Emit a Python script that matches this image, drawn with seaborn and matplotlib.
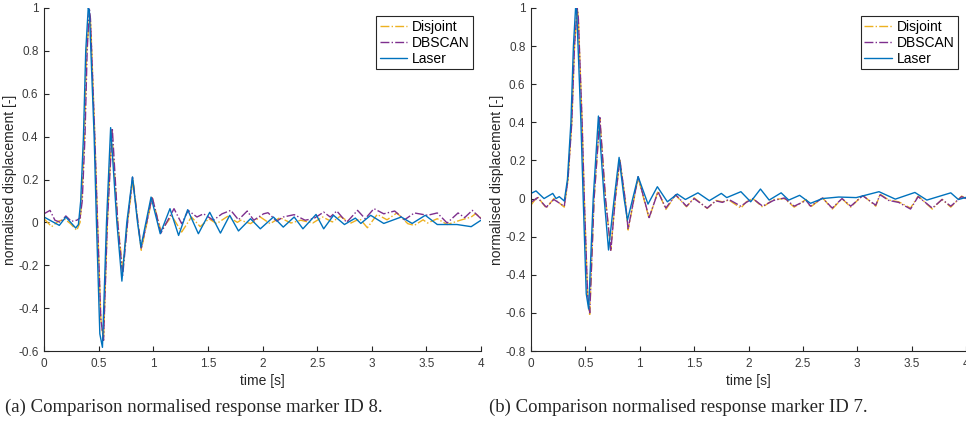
import numpy as np
import pandas as pd
import seaborn as sns
import matplotlib
matplotlib.use('Agg')
import matplotlib.pyplot as plt

# Panel (a): marker ID 8
a_laser_t = [0.00, 0.14, 0.20, 0.29, 0.315, 0.336, 0.361, 0.382, 0.405, 0.415, 0.459, 0.48, 0.511,
             0.535, 0.572, 0.61, 0.667, 0.713, 0.758, 0.81, 0.856, 0.887, 0.98, 1.064, 1.153,
             1.232, 1.315, 1.413, 1.517, 1.615, 1.70, 1.78, 1.89, 1.98, 2.10, 2.19, 2.29, 2.37,
             2.49, 2.56, 2.65, 2.75, 2.85, 2.90, 2.99, 3.11, 3.27, 3.37, 3.49, 3.60, 3.78, 3.91, 4.00]
a_laser_v = [0.025, -0.014, 0.025, -0.026, -0.01, 0.10, 0.40, 0.80, 1.00, 0.99, 0.40, 0.00, -0.52,
             -0.583, 0.00, 0.442, 0.00, -0.274, 0.00, 0.212, 0.00, -0.115, 0.118, -0.053, 0.064,
             -0.061, 0.059, -0.053, 0.047, -0.05, 0.033, -0.04, 0.017, -0.03, 0.025, -0.022, 0.025, -0.03,
             0.037, -0.03, 0.033, -0.01, 0.02, -0.005, 0.033, -0.005, 0.025, -0.005, 0.033, -0.01, -0.01, -0.02, 0.01]

a_disj_t = [0.00, 0.07, 0.13, 0.19, 0.24, 0.30, 0.33, 0.345, 0.37, 0.39, 0.42, 0.43, 0.465, 0.49, 0.52,
            0.545, 0.58, 0.62, 0.675, 0.72, 0.765, 0.815, 0.86, 0.89, 0.99, 1.07, 1.17, 1.26, 1.35,
            1.43, 1.51, 1.58, 1.68, 1.77, 1.80, 1.89, 1.98, 2.07, 2.16, 2.26, 2.35, 2.46, 2.55, 2.64,
            2.71, 2.81, 2.89, 2.96, 3.05, 3.14, 3.23, 3.33, 3.39, 3.47, 3.51, 3.60, 3.69, 3.81, 3.91,
            3.95, 4.00]
a_disj_v = [0.017, -0.02, 0.005, 0.015, -0.005, -0.037, 0.0, 0.10, 0.40, 0.80, 0.97, 0.90, 0.40, 0.0, -0.45,
            -0.55, 0.0, 0.43, 0.0, -0.22, 0.0, 0.20, 0.0, -0.13, 0.115, -0.04, 0.03, -0.045, 0.025,
            -0.02, 0.017, -0.006, 0.028, 0.0, 0.01, -0.006, 0.025, -0.006, 0.022, -0.003, 0.01, -0.003, 0.025, 0.002,
            0.028, -0.003, 0.017, -0.025, 0.037, 0.012, 0.044, -0.006, -0.014, 0.012, -0.003, 0.017, -0.01, 0.01, 0.025,
            0.04, 0.022]

a_dbs_t = [0.00, 0.055, 0.10, 0.15, 0.20, 0.25, 0.30, 0.33, 0.35, 0.375, 0.395, 0.415, 0.425, 0.465, 0.49,
           0.52, 0.545, 0.58, 0.625, 0.675, 0.72, 0.765, 0.81, 0.86, 0.89, 0.99, 1.07, 1.19, 1.26, 1.32,
           1.40, 1.46, 1.55, 1.63, 1.71, 1.78, 1.86, 1.92, 2.01, 2.05, 2.13, 2.19, 2.29, 2.39, 2.47, 2.56,
           2.62, 2.68, 2.77, 2.87, 2.94, 3.02, 3.11, 3.21, 3.30, 3.39, 3.51, 3.60, 3.69, 3.79, 3.85, 3.92, 4.00]
a_dbs_v = [0.04, 0.056, 0.01, 0.0, 0.03, 0.005, 0.01, 0.02, 0.10, 0.40, 0.80, 1.00, 0.95, 0.40, 0.0,
           -0.45, -0.55, 0.0, 0.44, 0.0, -0.25, 0.0, 0.21, 0.0, -0.12, 0.12, -0.05, 0.064, -0.006, 0.056,
           0.025, 0.04, 0.01, 0.04, 0.056, 0.012, 0.053, 0.01, 0.04, 0.045, 0.006, 0.025, 0.036, 0.01, 0.018, 0.048,
           0.025, 0.053, 0.0, 0.056, 0.017, 0.064, 0.04, 0.053, 0.012, 0.044, 0.033, 0.044, -0.003, 0.044, 0.022, 0.056, 0.017]

# Panel (b): marker ID 7
b_laser_t = [0.00, 0.046, 0.12, 0.20, 0.23, 0.26, 0.306, 0.335, 0.367, 0.39, 0.41, 0.42, 0.459, 0.48, 0.508,
             0.53, 0.572, 0.62, 0.673, 0.713, 0.765, 0.81, 0.856, 0.887, 0.985, 1.076, 1.162, 1.254,
             1.345, 1.42, 1.535, 1.64, 1.75, 1.80, 1.93, 2.02, 2.11, 2.19, 2.30, 2.37, 2.47, 2.57,
             2.68, 2.83, 2.99, 3.20, 3.35, 3.53, 3.64, 3.86, 3.93, 4.00]
b_laser_v = [0.027, 0.04, 0.0, 0.027, 0.0, 0.01, -0.013, 0.10, 0.40, 0.80, 1.00, 0.99, 0.40, 0.0, -0.50,
             -0.58, 0.0, 0.433, 0.0, -0.27, 0.0, 0.216, 0.0, -0.113, 0.115, -0.029, 0.062, -0.017,
             0.024, -0.005, 0.03, -0.011, 0.027, 0.005, 0.036, -0.017, 0.05, -0.008, 0.03, -0.008, 0.017, -0.025,
             0.0, 0.008, 0.005, 0.036, -0.003, 0.032, -0.008, 0.03, -0.005, 0.006]

b_disj_t = [0.00, 0.06, 0.14, 0.21, 0.306, 0.34, 0.375, 0.40, 0.425, 0.435, 0.47, 0.49, 0.52, 0.54, 0.58,
            0.633, 0.685, 0.734, 0.775, 0.817, 0.865, 0.893, 0.985, 1.086, 1.168, 1.24, 1.33, 1.43, 1.50,
            1.62, 1.70, 1.76, 1.82, 1.93, 1.98, 2.04, 2.13, 2.23, 2.33, 2.42, 2.53, 2.57, 2.68, 2.77,
            2.86, 2.94, 3.05, 3.17, 3.21, 3.29, 3.38, 3.49, 3.56, 3.69, 3.78, 3.86, 3.96, 4.00]
b_disj_v = [-0.034, 0.01, -0.05, 0.0, -0.045, 0.10, 0.40, 0.80, 1.00, 0.95, 0.40, 0.0, -0.50, -0.615, 0.0,
            0.42, 0.0, -0.27, 0.0, 0.20, 0.0, -0.165, 0.11, -0.105, 0.04, -0.057, 0.018, -0.043, 0.004,
            -0.052, -0.01, -0.017, -0.008, -0.05, -0.017, 0.0, -0.045, -0.005, 0.0, -0.045, -0.005, -0.045, 0.005, -0.055,
            0.0, -0.045, 0.018, -0.04, 0.023, -0.008, -0.017, -0.05, 0.013, -0.055, -0.004, -0.045, 0.013, 0.0]

b_dbs_t = [0.00, 0.06, 0.14, 0.21, 0.306, 0.34, 0.375, 0.40, 0.425, 0.435, 0.47, 0.49, 0.52, 0.54, 0.58,
           0.633, 0.685, 0.734, 0.775, 0.817, 0.865, 0.893, 0.985, 1.086, 1.168, 1.24, 1.33, 1.43, 1.50,
           1.62, 1.70, 1.76, 1.82, 1.93, 1.98, 2.04, 2.13, 2.23, 2.33, 2.42, 2.53, 2.57, 2.68, 2.77,
           2.86, 2.94, 3.05, 3.17, 3.21, 3.29, 3.38, 3.49, 3.56, 3.69, 3.78, 3.86, 3.96, 4.00]
b_dbs_v = [-0.02, 0.005, -0.045, -0.005, -0.04, 0.10, 0.40, 0.80, 1.00, 0.95, 0.40, 0.0, -0.50, -0.60, 0.0,
           0.425, 0.0, -0.275, 0.0, 0.205, 0.0, -0.16, 0.115, -0.10, 0.035, -0.05, 0.02, -0.04, 0.0,
           -0.05, -0.012, -0.02, -0.005, -0.04, -0.02, 0.0, -0.04, -0.01, 0.003, -0.04, -0.01, -0.04, 0.003, -0.05,
           0.0, -0.04, 0.015, -0.035, 0.02, -0.01, -0.02, -0.055, 0.01, -0.05, -0.005, -0.04, 0.01, 0.0]

labels = ['Disjoint', 'DBSCAN', 'Laser']
colors = ['#EDB120', '#7E2F8E', '#0072BD']
styles = ['-.', '-.', '-']

x_ticks = [0, 0.5, 1, 1.5, 2, 2.5, 3, 3.5, 4]
x_tick_labels = ['0', '0.5', '1', '1.5', '2', '2.5', '3', '3.5', '4']
a_y_ticks = [-0.6, -0.4, -0.2, 0, 0.2, 0.4, 0.6, 0.8, 1]
a_y_tick_labels = ['-0.6', '-0.4', '-0.2', '0', '0.2', '0.4', '0.6', '0.8', '1']
b_y_ticks = [-0.8, -0.6, -0.4, -0.2, 0, 0.2, 0.4, 0.6, 0.8, 1]
b_y_tick_labels = ['-0.8', '-0.6', '-0.4', '-0.2', '0', '0.2', '0.4', '0.6', '0.8', '1']

captions = ['(a) Comparison normalised response marker ID 8.',
            '(b) Comparison normalised response marker ID 7.']

sns.set_style('ticks')
plt.rcParams['font.family'] = ['Liberation Sans', 'DejaVu Sans']
plt.rcParams['xtick.direction'] = 'in'
plt.rcParams['ytick.direction'] = 'in'

fig = plt.figure(figsize=(9.66, 4.26), dpi=100)
ax_a = fig.add_axes([44 / 966, 1 - 351 / 426, 437 / 966, 343 / 426])
ax_b = fig.add_axes([531 / 966, 1 - 351 / 426, 435 / 966, 343 / 426])

panels = [
    (ax_a, [(a_disj_t, a_disj_v), (a_dbs_t, a_dbs_v), (a_laser_t, a_laser_v)],
     (-0.6, 1), a_y_ticks, a_y_tick_labels),
    (ax_b, [(b_disj_t, b_disj_v), (b_dbs_t, b_dbs_v), (b_laser_t, b_laser_v)],
     (-0.8, 1), b_y_ticks, b_y_tick_labels),
]

grey = '#262626'
label_grey = '#3a3a3a'
for ax, series, ylim, yt, ytl in panels:
    for (t, v), lab, col, ls in zip(series, labels, colors, styles):
        sns.lineplot(x=t, y=v, ax=ax, color=col, linestyle=ls, linewidth=1.0,
                     label=lab, estimator=None, sort=False)
    ax.set_xlim(0, 4)
    ax.set_ylim(*ylim)
    ax.set_xticks(x_ticks)
    ax.set_xticklabels(x_tick_labels)
    ax.set_yticks(yt)
    ax.set_yticklabels(ytl)
    ax.tick_params(labelsize=8.5, colors=grey, labelcolor=label_grey,
                   length=3.5, width=0.8)
    ax.tick_params(axis='x', pad=5)
    ax.tick_params(axis='y', pad=4)
    ax.set_xlabel('time [s]', fontsize=10, color=grey, labelpad=3)
    ax.set_ylabel('normalised displacement [-]', fontsize=10, color=grey, labelpad=1)
    for side in ['top', 'right']:
        ax.spines[side].set_visible(False)
    for side in ['left', 'bottom']:
        ax.spines[side].set_color(grey)
        ax.spines[side].set_linewidth(0.8)
    leg = ax.legend(loc='upper right', fontsize=10, fancybox=False, framealpha=1,
                    edgecolor=grey, handlelength=2.0, handletextpad=0.3,
                    labelspacing=0.15, borderpad=0.25, borderaxespad=0.6)
    leg.get_frame().set_linewidth(0.8)
    for txt in leg.get_texts():
        txt.set_color('black')

fig.text(5 / 966, 1 - 407 / 426, captions[0], fontsize=13.5,
         family=['Liberation Serif', 'DejaVu Serif'], va='center', ha='left')
fig.text(489 / 966, 1 - 407 / 426, captions[1], fontsize=13.5,
         family=['Liberation Serif', 'DejaVu Serif'], va='center', ha='left')

fig.savefig('out.png', dpi=100)
